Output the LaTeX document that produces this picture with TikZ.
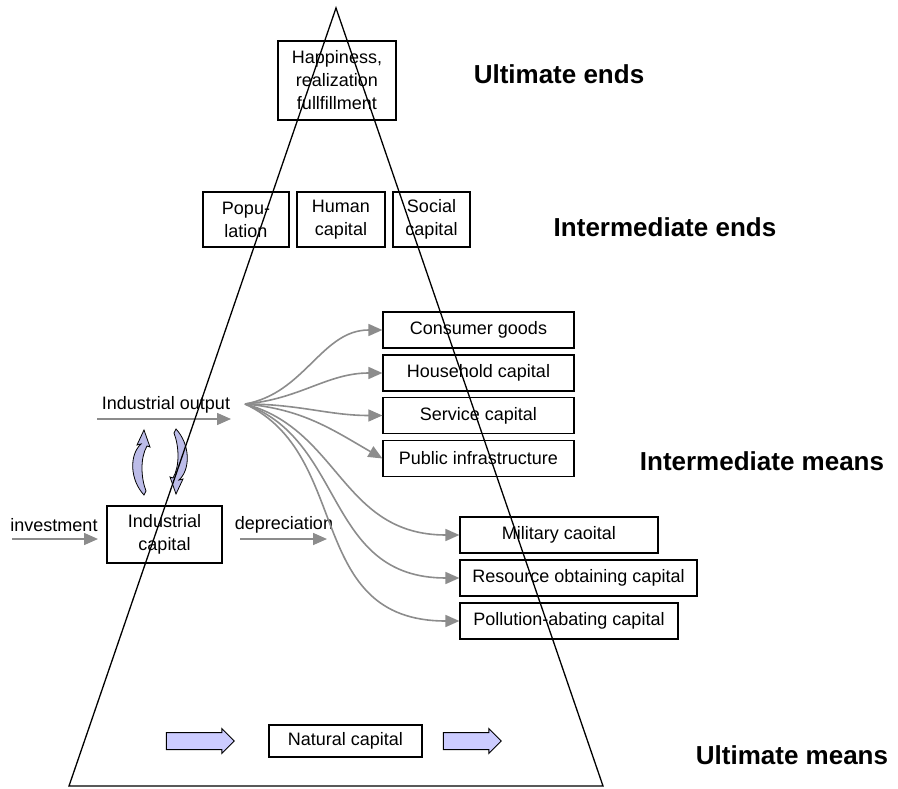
\documentclass[tikz,border=0pt]{standalone}
\usepackage{fontspec}
\setmainfont{Liberation Sans}
\usetikzlibrary{arrows.meta,shapes.arrows}
\definecolor{flowgray}{HTML}{8C8C8C}
\definecolor{lavender}{HTML}{CCCCFF}
\definecolor{cyclefill}{HTML}{BCBCE8}

\tikzset{
  box/.style={draw, line width=1.2pt, inner sep=0pt, align=center, font=\fontsize{18}{23}\selectfont},
  txt/.style={inner sep=0pt, font=\fontsize{18}{23}\selectfont},
  level/.style={inner sep=0pt, font=\fontsize{26}{30}\selectfont\bfseries},
  flow/.style={draw=flowgray, line width=1.6pt, >={Triangle[length=14pt,width=12pt]}, ->},
  blockarrow/.style={single arrow, draw, line width=1pt, fill=lavender, inner xsep=0pt, inner ysep=8pt,
    minimum height=68pt, single arrow head extend=4pt},
}

\begin{document}
\begin{tikzpicture}[x=1pt,y=-1pt]
\useasboundingbox (0,0) rectangle (898,789);

% ends
\node[box, minimum width=118, minimum height=79] (happy) at (337,80.5) {Happiness,\\realization\\fullfillment};
\node[box, minimum width=86, minimum height=55] (pop) at (246,219.5) {Popu-\\lation};
\node[box, minimum width=88, minimum height=55] (human) at (341,219.5) {Human\\capital};
\node[box, minimum width=77, minimum height=55] (social) at (431.5,219.5) {Social\\capital};

% means
\node[box, minimum width=191, minimum height=36] (cg) at (478.5,330) {Consumer goods};
\node[box, minimum width=191, minimum height=36] (hh) at (478.5,373) {Household capital};
\node[box, minimum width=191, minimum height=36] (sc) at (478.5,415.5) {Service capital};
\node[box, minimum width=191, minimum height=36] (pi) at (478.5,458.5) {Public infrastructure};
\node[box, minimum width=198, minimum height=36] (mil) at (559,535) {Military caoital};
\node[box, minimum width=237, minimum height=36] (res) at (578.5,578) {Resource obtaining capital};
\node[box, minimum width=218, minimum height=36] (pol) at (569,621) {Pollution-abating capital};

\node[box, minimum width=115, minimum height=57] (ic) at (164.5,534.5) {Industrial\\capital};
\node[box, minimum width=153, minimum height=32] (nat) at (345.5,741) {Natural capital};

% flow labels
\node[txt] (iolabel) at (166,405) {Industrial output};
\node[txt] (invlabel) at (54,525) {investment};
\node[txt] (deplabel) at (284,525) {depreciation};

\coordinate (ioS) at (97,419);
\coordinate (ioE) at (231,419);
\coordinate (invS) at (12,539);
\coordinate (invE) at (98,539);
\coordinate (depS) at (240,539);
\coordinate (depE) at (327,539);
\coordinate (fan) at (245,404);

\path (ioS) edge[flow] (ioE);
\path (invS) edge[flow] (invE);
\path (depS) edge[flow] (depE);

\path (fan) edge[flow, out=10, in=180] (cg.west);
\path (fan) edge[flow, out=5, in=180] (hh.west);
\path (fan) edge[flow, out=0, in=180] (sc.west);
\path (fan) edge[flow, out=-5, in=150] (pi.west);
\path (fan) edge[flow, out=-15, in=180, in looseness=1.2] (mil.west);
\path (fan) edge[flow, out=-20, in=180, in looseness=1.25] (res.west);
\path (fan) edge[flow, out=-25, in=180, in looseness=1.3] (pol.west);

% cycle arrows
\draw[fill=cyclefill, line width=0.8pt] (144,495) .. controls (130,480) and (129,455) .. (141,444)
  -- (137,445) -- (144,430) -- (150,447) -- (147,446)
  .. controls (140,458) and (141,478) .. (146,491) -- cycle;
\draw[fill=cyclefill, line width=0.8pt] (176,429) .. controls (190,444) and (191,469) .. (179,480)
  -- (183,479) -- (176,494) -- (170,477) -- (173,478)
  .. controls (180,466) and (179,446) .. (174,433) -- cycle;

% natural capital flows
\node[blockarrow] (natin) at (196,741) {};
\node[blockarrow, minimum height=58pt] (natout) at (468,741) {};

% pyramid
\draw[line width=1.3pt] (336,8) -- (69,786) -- (603,786) -- cycle;

% levels
\node[level] (ue) at (559,74) {Ultimate ends};
\node[level] (ie) at (665,227) {Intermediate ends};
\node[level] (im) at (762,461) {Intermediate means};
\node[level] (um) at (792,755) {Ultimate means};
\end{tikzpicture}
\end{document}
